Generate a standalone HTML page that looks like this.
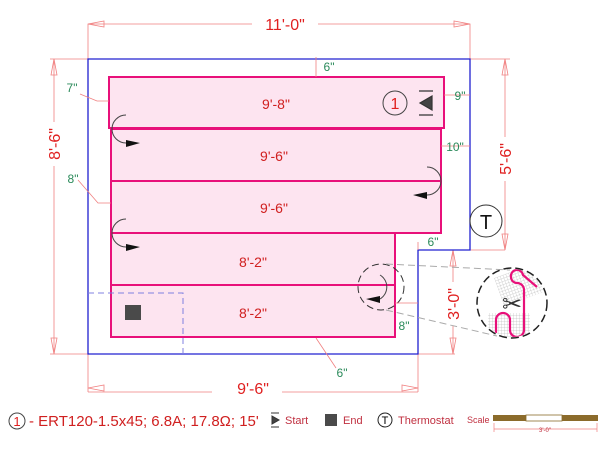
<!DOCTYPE html>
<html><head><style>body{margin:0;background:#fff}svg{display:block;font-family:"Liberation Sans",sans-serif}</style></head><body>
<svg width="600" height="450" viewBox="0 0 600 450" xmlns="http://www.w3.org/2000/svg">
<defs>
<pattern id="g" width="3" height="3" patternUnits="userSpaceOnUse"><path d="M0 0H3M0 0V3" stroke="#aaa" stroke-width="0.5"/></pattern>
<clipPath id="cc"><circle cx="512" cy="303" r="34"/></clipPath>
</defs>
<g stroke="#f08080" stroke-width="0.8" fill="none">
<path d="M88 59V24H470V59"/><path d="M470 59H510M88 59H50M50 354H88V392M418 354V392M418 392H88M418 250H505M505 59V250M418 354H455M453 250V354"/>
<path d="M54 59V354"/>
</g>
<g fill="none" stroke="#f08080" stroke-width="0.8">
<path d="M88 24l16-3v6z M470 24l-16-3v6z M54 59l-3 16h6z M54 354l-3-16h6z M505 59l-3 16h6z M505 250l-3-16h6z M88 388l16-3v6z M418 388l-16-3v6z M453 250l-3 16h6z M453 354l-3-16h6z"/>
</g>
<g fill="#fff"><rect x="252" y="16" width="66" height="16"/><rect x="46" y="122" width="16" height="44"/><rect x="497" y="137" width="16" height="44"/><rect x="445" y="282" width="16" height="44"/><rect x="212" y="378" width="70" height="18"/></g>
<g fill="#e02020" font-size="16" text-anchor="middle">
<text x="285" y="30">11'-0"</text>
<text x="253" y="394">9'-6"</text>
<text transform="translate(60,144) rotate(-90)">8'-6"</text>
<text transform="translate(511,159) rotate(-90)">5'-6"</text>
<text transform="translate(459,304) rotate(-90)">3'-0"</text>
</g>
<path d="M88 59H470V250H418V354H88Z" fill="none" stroke="#2020d0" stroke-width="1.3"/>
<g fill="#fde4f0" stroke="#e8107a" stroke-width="2">
<rect x="109" y="77" width="335" height="51"/>
<rect x="111" y="129" width="330" height="52"/>
<rect x="111" y="181" width="330" height="52"/>
<rect x="111" y="233" width="284" height="52"/>
<rect x="111" y="285" width="284" height="52"/>
</g>
<path d="M88 293H183V354" fill="none" stroke="#8080e0" stroke-dasharray="6 4"/>
<g fill="#d02020" font-size="14" text-anchor="middle">
<text x="276" y="109">9'-8"</text>
<text x="274" y="161">9'-6"</text>
<text x="274" y="213">9'-6"</text>
<text x="253" y="267">8'-2"</text>
<text x="253" y="318">8'-2"</text>
</g>
<circle cx="395" cy="103" r="12" fill="none" stroke="#444"/><text x="395" y="109" fill="#e02020" font-size="16" text-anchor="middle">1</text>
<path d="M419 91H433M419 115H433M432 96V110L420 103Z" stroke="#333" fill="#444" stroke-width="1.2"/>
<rect x="125" y="305" width="16" height="15" fill="#4a4a4a"/>
<g fill="none" stroke="#444" stroke-width="1"><path d="M126 115A14 14 0 0 0 126 143"/><path d="M126 219A14 14 0 0 0 126 247"/><path d="M427 167A14 14 0 0 1 427 195"/><path d="M380 275A14 14 0 0 1 380 299"/></g>
<g fill="#111"><path d="M126 140l14 3-14 4z M126 244l14 3-14 4z M427 192l-14 3 14 4z M380 296l-14 3 14 4z"/></g>
<circle cx="381" cy="287" r="23" fill="none" stroke="#333" stroke-dasharray="7 4"/>
<path d="M386 264L510 270M386 310L497 336" stroke="#aaa" stroke-dasharray="7 4" fill="none"/>
<g clip-path="url(#cc)"><rect x="498" y="270" width="42" height="30" fill="url(#g)" transform="rotate(-20 519 285)"/><rect x="488" y="313" width="42" height="26" fill="url(#g)"/>
<path d="M496 333V320A7 7 0 0 1 510 320V330A7 7 0 0 0 524 330V290A7 7 0 0 0 517 283A6 6 0 0 1 511 277A6 6 0 0 1 523 275L537 287" stroke="#e8107a" stroke-width="2.2" fill="none"/></g>
<circle cx="512" cy="303" r="35" fill="none" stroke="#222" stroke-width="1.5" stroke-dasharray="8 4"/>
<text x="512" y="312" font-size="24" fill="#333" text-anchor="middle">✂</text>
<circle cx="486" cy="221" r="16" fill="#fff" stroke="#333"/><text x="486" y="229" font-size="20" text-anchor="middle" fill="#111">T</text>
<g stroke="#f08080" stroke-width="0.8" fill="none"><path d="M80 94L97 101H109M78 180L98 203H111M444 95H470M441 146H470M316 57V77M316 338L336 368M395 303H418M418 242V250"/></g>
<g fill="#2a8a5a" font-size="12" text-anchor="middle">
<text x="72" y="92">7"</text><text x="73" y="183">8"</text><text x="329" y="71">6"</text><text x="460" y="100">9"</text><text x="455" y="151">10"</text><text x="433" y="246">6"</text><text x="404" y="330">8"</text><text x="342" y="377">6"</text>
</g>
<circle cx="17" cy="421" r="8" fill="none" stroke="#444"/><text x="17" y="426" fill="#e02020" font-size="13" text-anchor="middle">1</text>
<text x="29" y="426" fill="#d02020" font-size="15">- ERT120-1.5x45; 6.8A; 17.8Ω; 15'</text>
<path d="M271 413H279M271 427H279M272 416L279 420L272 424Z" stroke="#333" fill="#444"/>
<text x="285" y="424" fill="#c03040" font-size="11">Start</text>
<rect x="325" y="414" width="12" height="12" fill="#4a4a4a"/>
<text x="343" y="424" fill="#c03040" font-size="11">End</text>
<circle cx="385" cy="420" r="7" fill="none" stroke="#222"/><text x="385" y="424" font-size="11" text-anchor="middle">T</text>
<text x="398" y="424" fill="#c03040" font-size="11">Thermostat</text>
<text x="467" y="423" fill="#c03040" font-size="9">Scale</text>
<rect x="493" y="415" width="33" height="6" fill="#8b6b2b"/><rect x="526" y="415" width="36" height="6" fill="#fff" stroke="#8b6b2b" stroke-width="0.8"/><rect x="562" y="415" width="36" height="6" fill="#8b6b2b"/>
<path d="M494 429H597M494 423V432M597 423V432" stroke="#f08080" stroke-width="0.7"/>
<text x="545" y="432" fill="#c03040" font-size="6" text-anchor="middle">3'-0"</text>
</svg>
</body></html>
